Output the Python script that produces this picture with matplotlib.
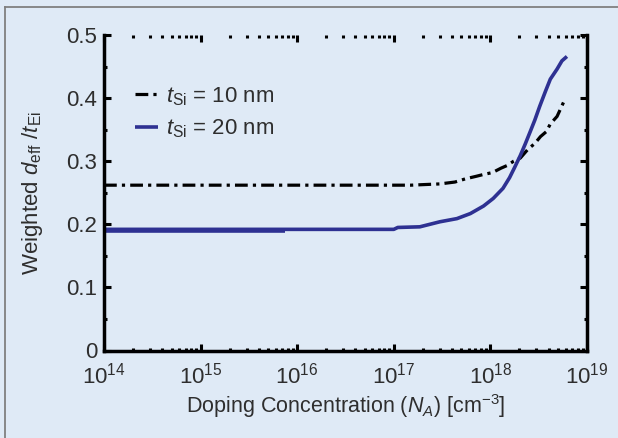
import numpy as np
import matplotlib
matplotlib.use("Agg")
import matplotlib.pyplot as plt
from matplotlib.ticker import LogLocator, MultipleLocator, NullFormatter, FuncFormatter
from matplotlib.lines import Line2D

# ---- data ----
na_10 = [1e14, 1e15, 1e16, 1e17, 1.5e17, 2.1e17, 3.0e17, 4.3e17, 5.5e17, 7.1e17,
         8.5e17, 1.05e18, 1.29e18, 1.48e18, 1.74e18, 2.04e18, 2.45e18, 2.88e18,
         3.3e18, 3.8e18, 4.17e18, 4.9e18, 5.25e18, 5.9e18]
ratio_10 = [0.262, 0.262, 0.262, 0.262, 0.262, 0.263, 0.264, 0.267, 0.272, 0.276,
            0.279, 0.282, 0.289, 0.293, 0.300, 0.305, 0.319, 0.328,
            0.339, 0.347, 0.359, 0.371, 0.381, 0.398]

na_20 = [1e14, 1e15, 1e16, 1e17, 1.1e17, 1.86e17, 3.0e17, 4.5e17, 6.2e17, 8.5e17,
         1.07e18, 1.35e18, 1.58e18, 1.78e18, 2.04e18, 2.29e18, 2.57e18, 2.88e18,
         3.24e18, 3.72e18, 4.17e18, 4.9e18, 5.5e18, 6.2e18]
ratio_20 = [0.192, 0.192, 0.192, 0.192, 0.195, 0.196, 0.204, 0.209, 0.217, 0.229,
            0.241, 0.257, 0.274, 0.290, 0.309, 0.327, 0.346, 0.365,
            0.387, 0.411, 0.430, 0.446, 0.459, 0.466]
# overlapping (thicker) trace of the 20 nm curve at low doping
na_20b = [1e14, 7.5e15]
ratio_20b = [0.1895, 0.1895]

labels = [r"$t_{\rm Si}$ = 10 nm", r"$t_{\rm Si}$ = 20 nm"]
xlabel = r"Doping Concentration ($N_A$) [cm$^{-3}$]"
ylabel = r"Weighted $d_{\rm eff}\ /t_{\rm Ei}$"

# ---- style ----
plt.rcParams['font.family'] = ['Liberation Sans', 'DejaVu Sans']
plt.rcParams['mathtext.fontset'] = 'custom'
plt.rcParams['mathtext.rm'] = 'Liberation Sans'
plt.rcParams['mathtext.it'] = 'Liberation Sans:italic'
plt.rcParams['mathtext.bf'] = 'Liberation Sans:bold'

bg = '#dfeaf6'
txt = '#2e2e2e'
blue = '#2e3192'

fig = plt.figure(figsize=(6.18, 4.38), dpi=100, facecolor=bg)
ax = fig.add_axes([104/618, (438-350.5)/438, 483/618, 315.5/438])
ax.set_facecolor(bg)

dash = (0, (4, 1.6, 1, 1.6))
ax.plot(na_10, ratio_10, color='black', lw=2.3, linestyle=dash, label=labels[0],
        solid_capstyle='butt', dash_capstyle='butt')
ax.plot(na_20b, ratio_20b, color=blue, lw=2.6, solid_capstyle='butt')
ax.plot(na_20, ratio_20, color=blue, lw=2.6, label=labels[1], solid_capstyle='butt')

ax.set_xscale('log')
ax.set_xlim(1e14, 1e19)
ax.set_ylim(0, 0.5)

ax.xaxis.set_major_locator(LogLocator(base=10, numticks=10))
ax.xaxis.set_minor_locator(LogLocator(base=10, subs=np.arange(2, 10), numticks=20))
ax.xaxis.set_minor_formatter(NullFormatter())
ax.yaxis.set_major_locator(MultipleLocator(0.1))
ax.yaxis.set_minor_locator(MultipleLocator(0.05))
ax.yaxis.set_major_formatter(FuncFormatter(
    lambda v, p: '0' if abs(v) < 1e-9 else ('%.1f' % v)))

for s in ['left', 'right', 'bottom']:
    ax.spines[s].set_linewidth(2.5)
    ax.spines[s].set_color('black')
ax.spines['top'].set_visible(False)

ax.tick_params(which='both', direction='in', top=True, right=True, color='black',
               labelcolor=txt, labelsize=16)
ax.tick_params(which='major', length=5, width=2.2)
ax.tick_params(which='minor', length=2.5, width=2.2)
ax.tick_params(axis='x', which='major', pad=9)
ax.tick_params(axis='y', which='major', pad=5)

ax.set_xlabel(xlabel, fontsize=15.5, color=txt, labelpad=2)
ax.set_ylabel(ylabel, fontsize=16, color=txt, labelpad=15)

leg = ax.legend(loc='upper left', bbox_to_anchor=(0.045, 0.87), frameon=False,
                fontsize=16, handlelength=1.05, handletextpad=0.35,
                labelspacing=0.45, borderaxespad=0)
for t in leg.get_texts():
    t.set_color(txt)

# figure border (top and left edges visible)
fig.add_artist(Line2D([5/618, 1.0], [1-7/438, 1-7/438], transform=fig.transFigure,
                      color='#808080', lw=1.3))
fig.add_artist(Line2D([5/618, 5/618], [0, 1-7/438], transform=fig.transFigure,
                      color='#808080', lw=1.3))

fig.savefig('out.png', dpi=100, facecolor=bg)
